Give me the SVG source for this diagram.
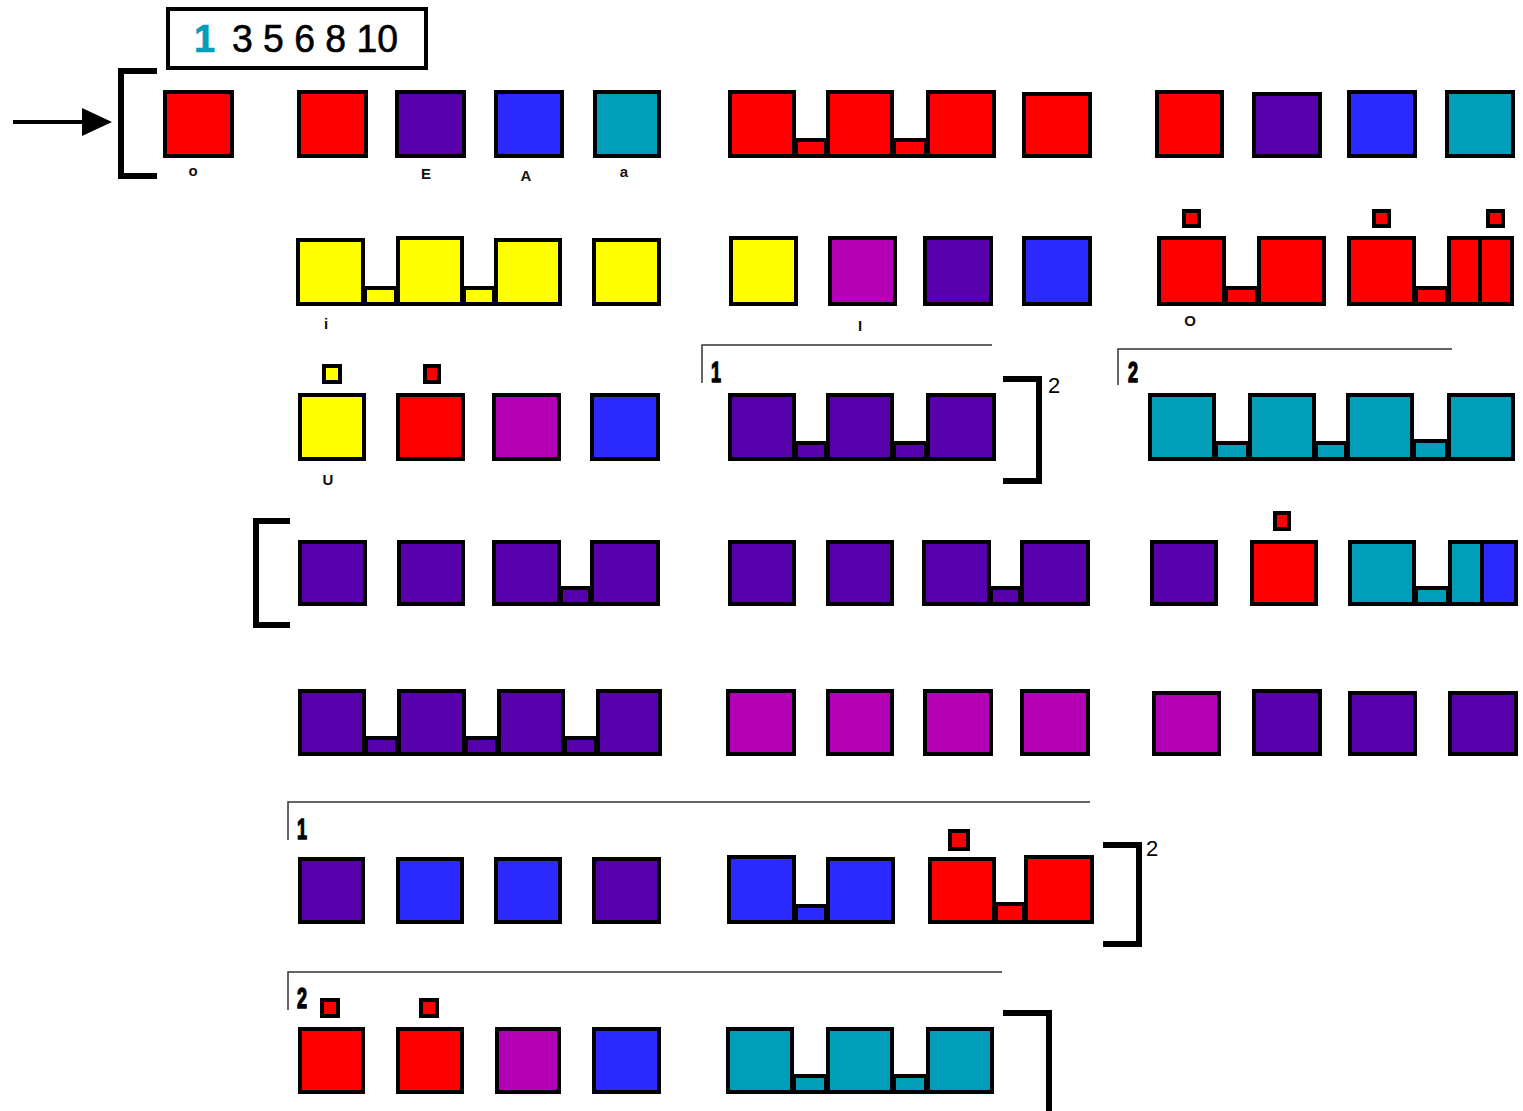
<svg xmlns="http://www.w3.org/2000/svg" width="1523" height="1111" viewBox="0 0 1523 1111">
<style>
rect{stroke:#000;stroke-width:4}
.r{fill:#FF0000}.p{fill:#5500AA}.b{fill:#2A2AFF}.t{fill:#009EB8}.y{fill:#FFFF00}.m{fill:#B400B4}
.br{fill:none;stroke:#000;stroke-width:6}
.thin{fill:none;stroke:#333;stroke-width:1.5}
.lbl{font-family:"Liberation Sans",Arial,sans-serif;font-size:15px;font-weight:bold;text-anchor:middle;fill:#111}
.num{font-family:"Liberation Sans",Arial,sans-serif;font-size:30px;font-weight:bold;fill:#000;stroke:#000;stroke-width:1.5}
.sup{font-family:"Liberation Sans",Arial,sans-serif;font-size:22px;fill:#000}
.leg{font-family:"Liberation Sans",Arial,sans-serif;font-size:38px;fill:#000;stroke:#000;stroke-width:0.6}
</style>

<g id="legend">
<rect x="168" y="9" width="258" height="59" fill="#fff"/>
<text class="leg" x="194" y="52" style="fill:#009EB8;stroke:#009EB8;font-weight:bold">1</text>
<text class="leg" x="232" y="52" textLength="166" lengthAdjust="spacingAndGlyphs">3 5 6 8 10</text>
</g>

<g id="connectors">
<line x1="13" y1="122" x2="84" y2="122" stroke="#000" stroke-width="4"/>
<path d="M82,108 L112,122 L82,136 Z" fill="#000"/>
<path class="br" d="M157,71 H121 V176 H157"/>
<path class="br" d="M290,521 H256 V625 H290"/>
<path class="br" d="M1003,379 H1039 V481 H1003"/>
<path class="br" d="M1103,845 H1139 V944 H1103"/>
<path class="br" d="M1003,1013 H1049 V1111"/>
<path class="thin" d="M702,383 V345 H992"/>
<path class="thin" d="M1118,385 V349 H1452"/>
<path class="thin" d="M288,840 V802 H1090"/>
<path class="thin" d="M288,1010 V972 H1002"/>
</g>

<g id="marks">
<text class="num" x="711" y="382" transform="translate(711 0) scale(0.6 1) translate(-711 0)">1</text>
<text class="num" x="1128" y="382" transform="translate(1128 0) scale(0.6 1) translate(-1128 0)">2</text>
<text class="num" x="297" y="839" transform="translate(297 0) scale(0.6 1) translate(-297 0)">1</text>
<text class="num" x="297" y="1008" transform="translate(297 0) scale(0.6 1) translate(-297 0)">2</text>
<text class="sup" x="1048" y="393">2</text>
<text class="sup" x="1146" y="856">2</text>
</g>

<g id="labels">
<text class="lbl" x="193" y="176">o</text>
<text class="lbl" x="426" y="179">E</text>
<text class="lbl" x="526" y="181">A</text>
<text class="lbl" x="624" y="177">a</text>
<text class="lbl" x="326" y="329">i</text>
<text class="lbl" x="860" y="331">I</text>
<text class="lbl" x="1190" y="326">O</text>
<text class="lbl" x="328" y="485">U</text>
</g>

<!-- Row 1 -->
<g id="r1n1"><rect class="r" x="165" y="92" width="67" height="64"/></g>
<g id="r1n2"><rect class="r" x="299" y="92" width="67" height="64"/></g>
<g id="r1n3"><rect class="p" x="397" y="92" width="67" height="64"/></g>
<g id="r1n4"><rect class="b" x="496" y="92" width="66" height="64"/></g>
<g id="r1n5"><rect class="t" x="595" y="92" width="64" height="64"/></g>
<g id="r1g1">
<rect class="r" x="796" y="140" width="30" height="16"/>
<rect class="r" x="894" y="140" width="32" height="16"/>
<rect class="r" x="730" y="92" width="64" height="64"/>
<rect class="r" x="828" y="92" width="64" height="64"/>
<rect class="r" x="928" y="92" width="66" height="64"/>
</g>
<g id="r1n6"><rect class="r" x="1024" y="94" width="66" height="62"/></g>
<g id="r1n7"><rect class="r" x="1157" y="92" width="65" height="64"/></g>
<g id="r1n8"><rect class="p" x="1254" y="94" width="66" height="62"/></g>
<g id="r1n9"><rect class="b" x="1349" y="92" width="66" height="64"/></g>
<g id="r1n10"><rect class="t" x="1447" y="92" width="66" height="64"/></g>

<!-- Row 2 -->
<g id="r2g1">
<rect class="y" x="365" y="288" width="31" height="16"/>
<rect class="y" x="464" y="288" width="30" height="16"/>
<rect class="y" x="298" y="240" width="65" height="64"/>
<rect class="y" x="398" y="238" width="64" height="66"/>
<rect class="y" x="496" y="240" width="64" height="64"/>
</g>
<g id="r2n1"><rect class="y" x="594" y="240" width="65" height="64"/></g>
<g id="r2n2"><rect class="y" x="731" y="238" width="65" height="66"/></g>
<g id="r2n3"><rect class="m" x="830" y="238" width="65" height="66"/></g>
<g id="r2n4"><rect class="p" x="925" y="238" width="66" height="66"/></g>
<g id="r2n5"><rect class="b" x="1024" y="238" width="66" height="66"/></g>
<g id="r2g2">
<rect class="r" x="1184" y="211" width="15" height="15"/>
<rect class="r" x="1226" y="288" width="31" height="16"/>
<rect class="r" x="1159" y="238" width="65" height="66"/>
<rect class="r" x="1259" y="238" width="65" height="66"/>
</g>
<g id="r2g3">
<rect class="r" x="1374" y="211" width="15" height="15"/>
<rect class="r" x="1488" y="211" width="15" height="15"/>
<rect class="r" x="1416" y="288" width="31" height="16"/>
<rect class="r" x="1349" y="238" width="65" height="66"/>
<rect class="r" x="1449" y="238" width="31" height="66"/>
<rect class="r" x="1480" y="238" width="32" height="66"/>
</g>

<!-- Row 3 -->
<g id="r3n1">
<rect class="y" x="324" y="366" width="16" height="16"/>
<rect class="y" x="300" y="395" width="64" height="64"/>
</g>
<g id="r3n2">
<rect class="r" x="425" y="366" width="14" height="16"/>
<rect class="r" x="398" y="395" width="65" height="64"/>
</g>
<g id="r3n3"><rect class="m" x="494" y="395" width="65" height="64"/></g>
<g id="r3n4"><rect class="b" x="592" y="395" width="66" height="64"/></g>
<g id="r3g1">
<rect class="p" x="796" y="443" width="30" height="16"/>
<rect class="p" x="894" y="443" width="32" height="16"/>
<rect class="p" x="730" y="395" width="64" height="64"/>
<rect class="p" x="828" y="395" width="64" height="64"/>
<rect class="p" x="928" y="395" width="66" height="64"/>
</g>
<g id="r3g2">
<rect class="t" x="1216" y="443" width="32" height="16"/>
<rect class="t" x="1316" y="443" width="30" height="16"/>
<rect class="t" x="1414" y="441" width="33" height="18"/>
<rect class="t" x="1150" y="395" width="64" height="64"/>
<rect class="t" x="1250" y="395" width="64" height="64"/>
<rect class="t" x="1348" y="395" width="64" height="64"/>
<rect class="t" x="1449" y="395" width="64" height="64"/>
</g>

<!-- Row 4 -->
<g id="r4n1"><rect class="p" x="300" y="542" width="65" height="62"/></g>
<g id="r4n2"><rect class="p" x="399" y="542" width="64" height="62"/></g>
<g id="r4g1">
<rect class="p" x="561" y="588" width="29" height="16"/>
<rect class="p" x="494" y="542" width="65" height="62"/>
<rect class="p" x="592" y="542" width="66" height="62"/>
</g>
<g id="r4n3"><rect class="p" x="730" y="542" width="64" height="62"/></g>
<g id="r4n4"><rect class="p" x="828" y="542" width="64" height="62"/></g>
<g id="r4g2">
<rect class="p" x="991" y="588" width="29" height="16"/>
<rect class="p" x="924" y="542" width="65" height="62"/>
<rect class="p" x="1022" y="542" width="66" height="62"/>
</g>
<g id="r4n5"><rect class="p" x="1152" y="542" width="64" height="62"/></g>
<g id="r4n6">
<rect class="r" x="1275" y="513" width="14" height="16"/>
<rect class="r" x="1252" y="542" width="64" height="62"/>
</g>
<g id="r4g3">
<rect class="t" x="1416" y="588" width="32" height="16"/>
<rect class="t" x="1350" y="542" width="64" height="62"/>
<rect class="t" x="1450" y="542" width="32" height="62"/>
<rect class="b" x="1482" y="542" width="34" height="62"/>
</g>

<!-- Row 5 -->
<g id="r5g1">
<rect class="p" x="366" y="738" width="31" height="16"/>
<rect class="p" x="466" y="738" width="31" height="16"/>
<rect class="p" x="565" y="738" width="31" height="16"/>
<rect class="p" x="300" y="691" width="64" height="63"/>
<rect class="p" x="399" y="691" width="65" height="63"/>
<rect class="p" x="499" y="691" width="64" height="63"/>
<rect class="p" x="598" y="691" width="62" height="63"/>
</g>
<g id="r5n1"><rect class="m" x="728" y="691" width="66" height="63"/></g>
<g id="r5n2"><rect class="m" x="828" y="691" width="64" height="63"/></g>
<g id="r5n3"><rect class="m" x="925" y="691" width="66" height="63"/></g>
<g id="r5n4"><rect class="m" x="1022" y="691" width="66" height="63"/></g>
<g id="r5n5"><rect class="m" x="1154" y="693" width="65" height="61"/></g>
<g id="r5n6"><rect class="p" x="1254" y="691" width="66" height="63"/></g>
<g id="r5n7"><rect class="p" x="1350" y="693" width="65" height="61"/></g>
<g id="r5n8"><rect class="p" x="1450" y="693" width="66" height="61"/></g>

<!-- Row 6 -->
<g id="r6n1"><rect class="p" x="300" y="859" width="63" height="63"/></g>
<g id="r6n2"><rect class="b" x="398" y="859" width="64" height="63"/></g>
<g id="r6n3"><rect class="b" x="496" y="859" width="64" height="63"/></g>
<g id="r6n4"><rect class="p" x="594" y="859" width="65" height="63"/></g>
<g id="r6g1">
<rect class="b" x="796" y="906" width="30" height="16"/>
<rect class="b" x="729" y="857" width="65" height="65"/>
<rect class="b" x="828" y="859" width="65" height="63"/>
</g>
<g id="r6g2">
<rect class="r" x="950" y="831" width="18" height="18"/>
<rect class="r" x="996" y="904" width="28" height="18"/>
<rect class="r" x="930" y="859" width="64" height="63"/>
<rect class="r" x="1026" y="857" width="66" height="65"/>
</g>

<!-- Row 7 -->
<g id="r7n1">
<rect class="r" x="322" y="1000" width="16" height="16"/>
<rect class="r" x="300" y="1029" width="63" height="63"/>
</g>
<g id="r7n2">
<rect class="r" x="421" y="1000" width="16" height="16"/>
<rect class="r" x="398" y="1029" width="64" height="63"/>
</g>
<g id="r7n3"><rect class="m" x="497" y="1029" width="62" height="63"/></g>
<g id="r7n4"><rect class="b" x="594" y="1029" width="65" height="63"/></g>
<g id="r7g1">
<rect class="t" x="794" y="1076" width="32" height="16"/>
<rect class="t" x="894" y="1076" width="32" height="16"/>
<rect class="t" x="728" y="1029" width="64" height="63"/>
<rect class="t" x="828" y="1029" width="64" height="63"/>
<rect class="t" x="928" y="1029" width="64" height="63"/>
</g>
</svg>
